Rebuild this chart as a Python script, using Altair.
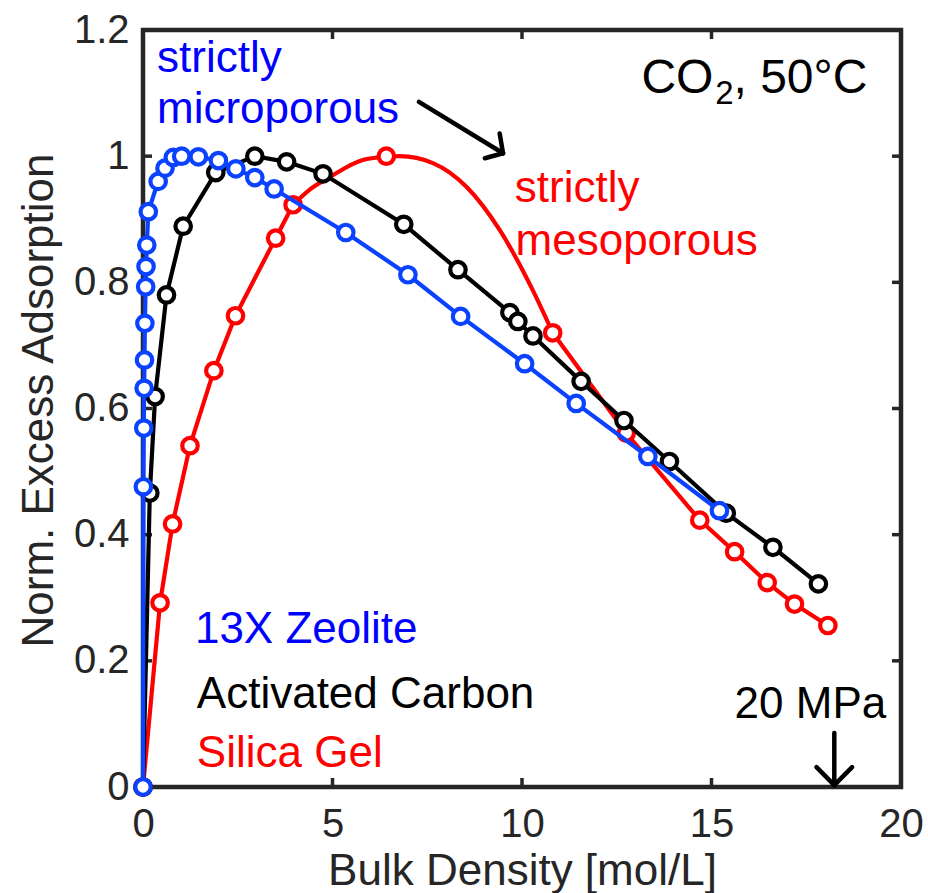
import altair as alt
import pandas as pd

# ---- data -----------------------------------------------------------------
# 13X zeolite (measured, normalised excess adsorption vs bulk density)
zeo_x = [0.0, 0.01, 0.02, 0.03, 0.04, 0.05, 0.07, 0.08, 0.10, 0.14, 0.40, 0.58,
         0.80, 1.02, 1.46, 1.99, 2.45, 2.95, 3.46, 5.35, 6.99, 8.38, 10.07,
         11.43, 13.32, 15.21]
zeo_y = [0.0, 0.476, 0.569, 0.632, 0.677, 0.735, 0.793, 0.825, 0.859, 0.912,
         0.960, 0.981, 0.998, 1.0, 0.999, 0.993, 0.980, 0.966, 0.948, 0.879,
         0.812, 0.746, 0.671, 0.608, 0.524, 0.438]

# activated carbon
ac_x = [0.0, 0.18, 0.32, 0.62, 1.06, 1.92, 2.95, 3.79, 4.75, 6.88, 8.31, 9.68,
        9.89, 10.29, 11.56, 12.69, 13.89, 15.39, 16.62, 17.82]
ac_y = [0.0, 0.466, 0.619, 0.780, 0.889, 0.974, 1.0, 0.991, 0.972, 0.892,
        0.820, 0.752, 0.738, 0.715, 0.643, 0.581, 0.516, 0.434, 0.380, 0.322]

# silica gel
sg_x = [0.0, 0.45, 0.78, 1.24, 1.87, 2.44, 3.50, 3.96, 6.42, 10.81, 12.75,
        14.69, 15.61, 16.47, 17.19, 18.07]
sg_y = [0.0, 0.292, 0.417, 0.541, 0.660, 0.747, 0.870, 0.923, 1.0, 0.720,
        0.561, 0.423, 0.373, 0.324, 0.290, 0.256]

# silica gel fitted curve through the maximum
sg_fit_x = [3.96, 4.40, 4.93, 5.80, 6.42, 6.78, 7.65, 8.54, 9.41, 10.28, 10.81]
sg_fit_y = [0.923, 0.947, 0.967, 0.994, 0.999, 1.0, 0.989, 0.951, 0.883,
            0.788, 0.720]

# axis ticks
x_ticks = [0, 5, 10, 15, 20]
y_ticks = [0, 0.2, 0.4, 0.6, 0.8, 1.0, 1.2]

# text labels: (text, x, y, colour, font size)
note_text = ["strictly", "microporous", "strictly", "mesoporous",
             "13X Zeolite", "Activated Carbon", "Silica Gel", "20 MPa",
             "CO", "2", ", 50°C"]
note_x = [0.37, 0.37, 9.81, 9.83, 1.37, 1.42, 1.42, 15.61, 13.15, 15.10, 15.58]
note_y = [1.1335, 1.052, 0.927, 0.843, 0.228, 0.125, 0.032, 0.109,
          1.1007, 1.083, 1.1007]
note_color = ["#0000ff", "#0000ff", "#ff0000", "#ff0000", "#0000ff",
              "#000000", "#ff0000", "#000000", "#000000", "#000000", "#000000"]
note_size = [44, 44, 44, 44, 44, 44, 44, 44, 48, 33, 48]

# arrow segments: shaft + two head strokes each
arrow_x = [7.28, 9.50, 9.50, 18.24, 18.24, 18.24]
arrow_y = [1.086, 1.0046, 1.0046, 0.0856, 0.003, 0.003]
arrow_x2 = [9.50, 9.02, 9.41, 18.24, 17.77, 18.71]
arrow_y2 = [1.0046, 0.9967, 1.036, 0.003, 0.0315, 0.0315]

# ---- styling ---------------------------------------------------------------
FONT = "Liberation Sans"
AX = "#262626"
BLUE = "#0a42ff"
RED = "#ff0000"
BLACK = "#000000"
W, H = 758, 757
TICK = 9
LW = 4.2        # data line width
MS = 240        # marker area
MW = 4.2        # marker outline width

xs = alt.Scale(domain=[0, 20], nice=False, zero=False)
ys = alt.Scale(domain=[0, 1.2], nice=False, zero=False)

x_axis = alt.Axis(values=x_ticks, title="Bulk Density [mol/L]", domain=False,
                  ticks=False, grid=False, labelFont=FONT, labelFontSize=40,
                  labelColor=AX, labelPadding=17, labelFlush=False,
                  labelOverlap=False, titleFont=FONT, titleFontSize=44,
                  titleFontWeight="normal", titleColor=AX,
                  titleBaseline="alphabetic", titleY=97)
y_axis = alt.Axis(values=y_ticks, title="Norm. Excess Adsorption", format=".1~f",
                  domain=False, ticks=False, grid=False, labelFont=FONT,
                  labelFontSize=40, labelColor=AX, labelPadding=14,
                  labelFlush=False, labelOverlap=False, titleFont=FONT,
                  titleFontSize=44, titleFontWeight="normal", titleColor=AX,
                  titleBaseline="alphabetic", titleX=-91, titleY=370)

X = alt.X("x:Q", scale=xs, axis=x_axis)
Y = alt.Y("y:Q", scale=ys, axis=y_axis)

zeo = pd.DataFrame({"x": zeo_x, "y": zeo_y})
ac = pd.DataFrame({"x": ac_x, "y": ac_y})
sg = pd.DataFrame({"x": sg_x, "y": sg_y})
sg_fit = pd.DataFrame({"x": sg_fit_x, "y": sg_fit_y})

# straight segments of the silica gel trace, either side of the fitted peak
sg_low = sg[sg["x"] <= 3.96].assign(seg="a")
sg_high = sg[sg["x"] >= 10.81].assign(seg="b")
sg_lines = pd.concat([sg_low, sg_high], ignore_index=True)


def markers(df, color):
    return alt.Chart(df).mark_point(
        shape="circle", filled=True, fill="white", stroke=color,
        strokeWidth=MW, size=MS, opacity=1).encode(x=X, y=Y)


def series(df, color):
    line = alt.Chart(df).mark_line(color=color, strokeWidth=LW).encode(x=X, y=Y)
    return line, markers(df, color)


sg_line = alt.Chart(sg_lines).mark_line(color=RED, strokeWidth=LW).encode(
    x=X, y=Y, detail="seg:N")
sg_curve = alt.Chart(sg_fit).mark_line(
    color=RED, strokeWidth=LW, interpolate="monotone").encode(x=X, y=Y)
sg_pts = markers(sg, RED)

ac_line, ac_pts = series(ac, BLACK)
zeo_line, zeo_pts = series(zeo, BLUE)

# inward ticks on all four sides
xt = pd.DataFrame({"x": x_ticks})
yt = pd.DataFrame({"y": y_ticks})
tick_style = dict(color=AX, strokeWidth=3.5)
ticks = [
    alt.Chart(xt).mark_rule(**tick_style).encode(
        x=X, y=alt.value(H), y2=alt.value(H - TICK)),
    alt.Chart(xt).mark_rule(**tick_style).encode(
        x=X, y=alt.value(0), y2=alt.value(TICK)),
    alt.Chart(yt).mark_rule(**tick_style).encode(
        y=Y, x=alt.value(0), x2=alt.value(TICK)),
    alt.Chart(yt).mark_rule(**tick_style).encode(
        y=Y, x=alt.value(W), x2=alt.value(W - TICK)),
]

arrows = alt.Chart(pd.DataFrame({
    "x": arrow_x, "y": arrow_y, "x2": arrow_x2, "y2": arrow_y2})).mark_rule(
    color=BLACK, strokeWidth=4.5, strokeCap="round").encode(
    x=X, y=Y, x2="x2:Q", y2="y2:Q")

notes = alt.Chart(pd.DataFrame({
    "t": note_text, "x": note_x, "y": note_y, "c": note_color,
    "s": note_size})).mark_text(
    align="left", baseline="alphabetic", font=FONT).encode(
    x=X, y=Y, text="t:N", color=alt.Color("c:N", scale=None),
    size=alt.Size("s:Q", scale=None))

chart = alt.layer(
    *ticks, sg_line, sg_curve, sg_pts, ac_line, ac_pts, zeo_line, zeo_pts,
    arrows, notes
).properties(
    width=W, height=H,
    padding={"left": 143, "top": 30, "right": 928 - 143 - W,
             "bottom": 893 - 30 - H},
    autosize=alt.AutoSizeParams(type="none"),
    background="white",
).configure_view(stroke=AX, strokeWidth=4.5)

chart.save("out.html", embed_options={"renderer": "svg", "actions": False})
